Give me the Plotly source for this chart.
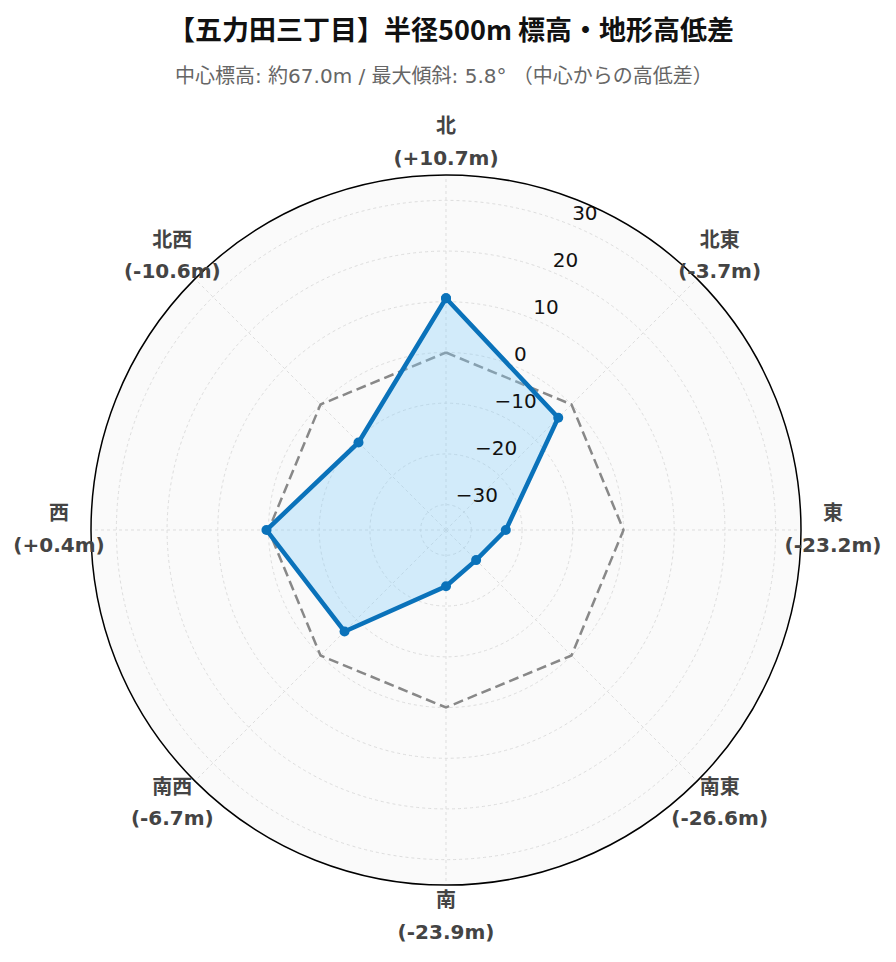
import plotly.graph_objects as go

directions = ["北", "北東", "東", "南東", "南", "南西", "西", "北西"]
angles = [0, 45, 90, 135, 180, 225, 270, 315]
diffs = [10.7, -3.7, -23.2, -26.6, -23.9, -6.7, 0.4, -10.6]
baseline = [0, 0, 0, 0, 0, 0, 0, 0]
radial_ticks = [-30, -20, -10, 0, 10, 20, 30]
r_min, r_max = -35, 35
radial_axis_theta = 22.5   # compass bearing of the radial tick labels

tick_text = [
    f"<span style='font-size:20px'><b>{d}</b></span><br>"
    f"<span style='font-size:20px'><b>({v:+.1f}m)</b></span>"
    for d, v in zip(directions, diffs)
]
radial_text = [str(t).replace("-", "\u2212") for t in radial_ticks]

FONT = "DejaVu Sans, Noto Sans CJK JP, sans-serif"

# layout geometry (figure pixels)
PLOT = 800          # size of the square plot area
INNER = 710         # diameter of the data circle
LABEL_RING = 387 / 400  # label ring radius as fraction of outer (label) polar
d0 = (PLOT - INNER) / 2 / PLOT
d1 = 1 - d0

fig = go.Figure()
fig.add_trace(go.Scatterpolar(
    r=baseline + [baseline[0]], theta=angles + [angles[0]],
    mode="lines", line=dict(color="#888888", width=2.5, dash="10px,5px"),
    hoverinfo="skip", showlegend=False, subplot="polar",
))
fig.add_trace(go.Scatterpolar(
    r=diffs + [diffs[0]], theta=angles + [angles[0]],
    mode="lines+markers", fill="toself",
    fillcolor="rgba(135,206,250,0.35)",
    line=dict(color="#0a72ba", width=4.5),
    marker=dict(size=10, color="#0a72ba"),
    showlegend=False, subplot="polar",
))
fig.add_trace(go.Scatterpolar(
    r=radial_ticks, theta=[radial_axis_theta] * len(radial_ticks),
    mode="text", text=radial_text, textposition="top right",
    textfont=dict(size=20, color="#111", family=FONT),
    hoverinfo="skip", showlegend=False, subplot="polar",
))
fig.add_trace(go.Scatterpolar(
    r=[LABEL_RING] * len(angles), theta=angles,
    mode="text", text=tick_text, textposition="middle center",
    textfont=dict(size=24, color="#444", family=FONT),
    cliponaxis=False, hoverinfo="skip", showlegend=False, subplot="polar2",
))

fig.update_layout(
    width=896, height=962,
    paper_bgcolor="white",
    font=dict(family=FONT, color="#333"),
    margin=dict(l=38, r=58, t=122, b=40, autoexpand=False),
    title=dict(
        text="<b>【五力田三丁目】半径500m 標高・地形高低差</b>",
        x=0.4945, xanchor="center", y=0.977, yanchor="middle",
        font=dict(size=27, color="#111", family="Noto Sans CJK JP, sans-serif"),
    ),
    annotations=[dict(
        text="中心標高: 約67.0m / 最大傾斜: 5.8° （中心からの高低差）",
        x=0.4975, y=1.0675, xref="paper", yref="paper",
        xanchor="center", yanchor="middle", showarrow=False,
        font=dict(size=20, color="#666", family=FONT),
    )],
    polar=dict(
        domain=dict(x=[d0, d1], y=[d0, d1]),
        bgcolor="#fafafa",
        radialaxis=dict(
            range=[r_min, r_max], tickvals=radial_ticks, showticklabels=False,
            showline=False, ticks="", gridcolor="#dddddd", griddash="dot",
        ),
        angularaxis=dict(
            direction="clockwise", rotation=90,
            tickmode="array", tickvals=angles, showticklabels=False,
            showline=True, linecolor="black", linewidth=1.5,
            gridcolor="#dddddd", griddash="dot", ticks="",
        ),
    ),
    polar2=dict(
        domain=dict(x=[0, 1], y=[0, 1]),
        bgcolor="rgba(0,0,0,0)",
        radialaxis=dict(range=[0, 1], visible=False),
        angularaxis=dict(direction="clockwise", rotation=90, visible=False),
    ),
)

fig.write_html("out.html")
